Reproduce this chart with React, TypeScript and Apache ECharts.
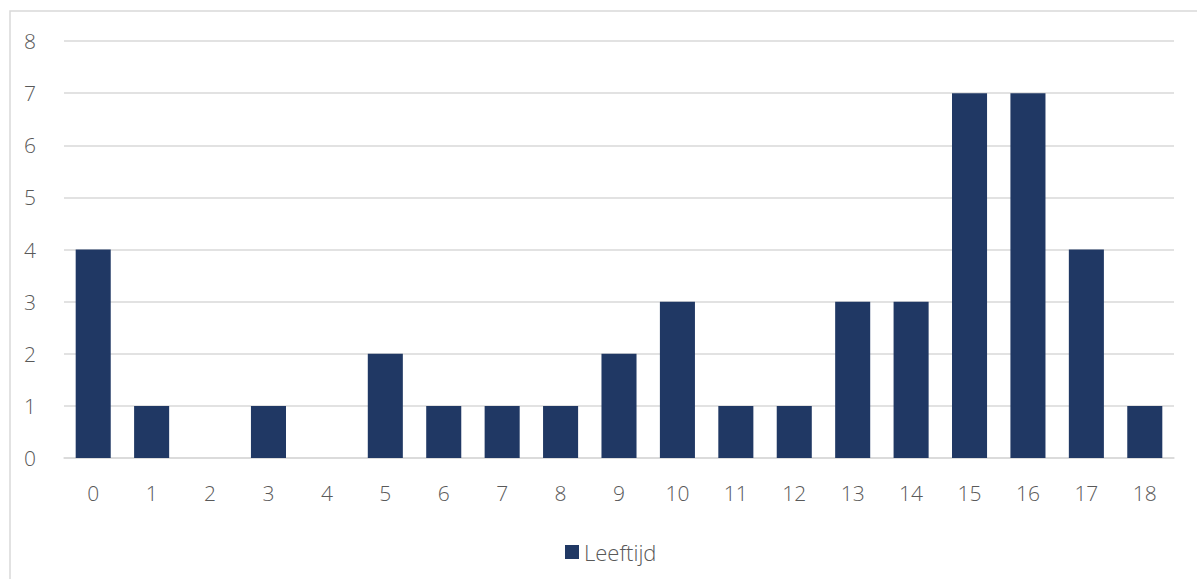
import React, { useEffect, useRef } from "react";
import * as echarts from "echarts";

const categories = ["0","1","2","3","4","5","6","7","8","9","10","11","12","13","14","15","16","17","18"];
const leeftijd = [4,1,0,1,0,2,1,1,1,2,3,1,1,3,3,7,7,4,1];
const seriesName = "Leeftijd";

export default function App() {
  const ref = useRef<HTMLDivElement>(null);
  useEffect(() => {
    const chart = echarts.init(ref.current!, null, { renderer: "svg" });
    const font = "'Open Sans', 'Segoe UI', sans-serif";
    chart.setOption({
      animation: false,
      backgroundColor: "#ffffff",
      graphic: [
        {
          type: "rect",
          shape: { x: 10, y: 11, width: 1300, height: 700 },
          style: { fill: "none", stroke: "#d9d9d9", lineWidth: 1.5 },
          silent: true,
        },
      ],
      grid: { left: 64, right: 23, top: 41, bottom: 121, containLabel: false },
      legend: {
        data: [seriesName],
        left: 560,
        top: 536,
        itemWidth: 14,
        itemHeight: 14,
        itemGap: 5,
        icon: "rect",
        textStyle: { color: "#595959", fontSize: 22, fontFamily: font, fontWeight: 300 },
      },
      xAxis: {
        type: "category",
        data: categories,
        axisLine: { show: true, lineStyle: { color: "#d9d9d9", width: 1.5 } },
        axisTick: { show: false },
        axisLabel: { color: "#595959", fontSize: 21, fontFamily: font, fontWeight: 300, margin: 24 },
      },
      yAxis: {
        type: "value",
        min: 0,
        max: 8,
        interval: 1,
        axisLine: { show: false },
        axisTick: { show: false },
        splitLine: { lineStyle: { color: "#d9d9d9", width: 1.5 } },
        axisLabel: { color: "#595959", fontSize: 21, fontFamily: font, fontWeight: 300, margin: 28 },
      },
      series: [
        {
          name: seriesName,
          type: "bar",
          data: leeftijd,
          barCategoryGap: "40%",
          itemStyle: { color: "#203864" },
        },
      ],
    });
    return () => chart.dispose();
  }, []);
  return <div ref={ref} style={{ position: "absolute", left: 0, top: 0, width: 1197, height: 579 }} />;
}
